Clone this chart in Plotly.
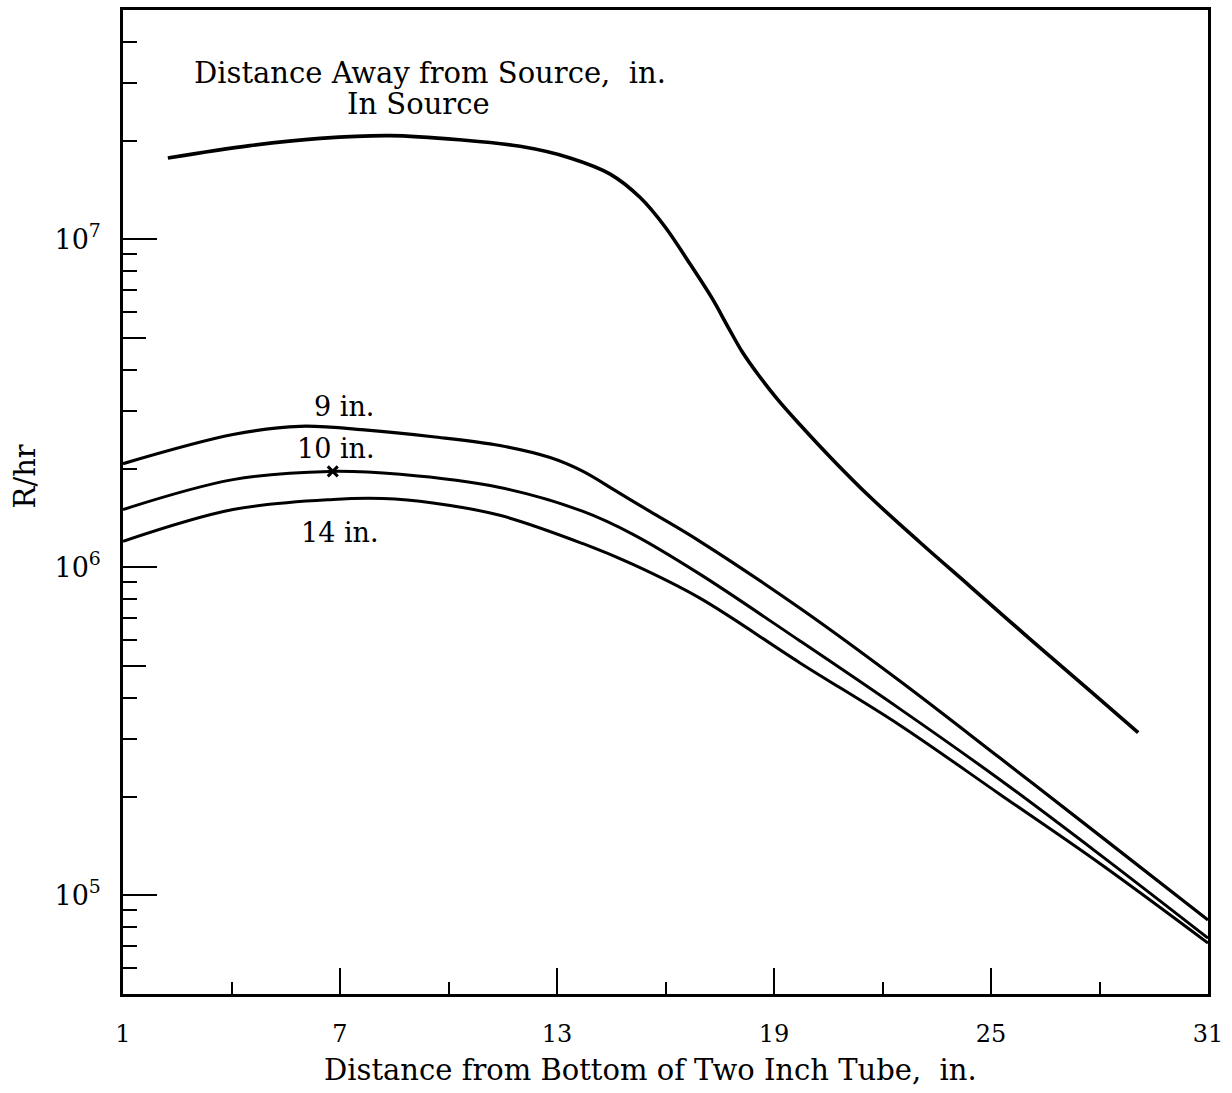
import plotly.graph_objects as go

# ---- data ----
src_x = [2.24, 4.51, 6.45, 8.38, 10.32, 11.98, 13.36, 14.47, 15.30, 15.99, 16.68, 17.29,
         17.73, 18.12, 18.56, 19.11, 19.72, 20.55, 21.65, 23.04, 24.42, 26.08, 27.74, 29.07]
src_y = [1.77e7, 1.93e7, 2.03e7, 2.07e7, 2.01e7, 1.92e7, 1.77e7, 1.58e7, 1.34e7, 1.09e7,
         8.4e6, 6.6e6, 5.4e6, 4.54e6, 3.87e6, 3.24e6, 2.72e6, 2.17e6, 1.64e6, 1.19e6,
         8.75e5, 6.04e5, 4.20e5, 3.13e5]

in9_x = [1.0, 4.04, 5.89, 7.75, 9.57, 11.42, 12.81, 13.72, 14.66, 15.57, 16.95, 19.72,
         22.48, 25.25, 28.01, 31.0]
in9_y = [2.07e6, 2.54e6, 2.69e6, 2.62e6, 2.50e6, 2.35e6, 2.16e6, 1.96e6, 1.70e6, 1.48e6,
         1.20e6, 7.50e5, 4.50e5, 2.62e5, 1.52e5, 8.40e4]

in10_x = [1.0, 4.04, 6.72, 8.66, 11.42, 13.72, 15.10, 16.95, 19.72, 22.48, 25.25, 28.01, 31.0]
in10_y = [1.50e6, 1.85e6, 1.96e6, 1.92e6, 1.75e6, 1.48e6, 1.26e6, 9.53e5, 5.96e5,
          3.70e5, 2.25e5, 1.33e5, 7.40e4]

in14_x = [1.0, 4.04, 6.81, 8.19, 9.57, 11.42, 13.72, 15.10, 16.95, 19.72, 22.48, 25.25,
          28.01, 31.0]
in14_y = [1.20e6, 1.50e6, 1.61e6, 1.62e6, 1.57e6, 1.44e6, 1.18e6, 1.02e6, 8.05e5,
          5.11e5, 3.30e5, 2.03e5, 1.25e5, 7.15e4]

mark_x = [6.8]
mark_y = [1.96e6]

x_ticks = [1, 7, 13, 19, 25, 31]
x_minor = [4, 10, 16, 22, 28]
y_decades = [1e5, 1e6, 1e7]
y_decade_text = ["10<sup>5</sup>", "10<sup>6</sup>", "10<sup>7</sup>"]
y_fives = [5e5, 5e6]
y_minor = [6e4, 7e4, 8e4, 9e4,
           2e5, 3e5, 4e5, 6e5, 7e5, 8e5, 9e5,
           2e6, 3e6, 4e6, 6e6, 7e6, 8e6, 9e6,
           2e7, 3e7, 4e7]

FONT = "DejaVu Serif"
YR = [4.69897, 7.69897]

fig = go.Figure()


def curve(xs, ys, width):
    return go.Scatter(x=xs, y=ys, mode="lines", showlegend=False, hoverinfo="skip",
                      line=dict(color="black", width=width, shape="spline", smoothing=1.0))


fig.add_trace(curve(src_x, src_y, 3.6))
fig.add_trace(curve(in9_x, in9_y, 3.2))
fig.add_trace(curve(in10_x, in10_y, 3.0))
fig.add_trace(curve(in14_x, in14_y, 3.0))
fig.add_trace(go.Scatter(x=mark_x, y=mark_y, mode="markers", showlegend=False,
                         marker=dict(symbol="x-thin", size=10, line=dict(color="black", width=3))))

# overlay axis for the medium (5x) ticks
fig.add_trace(go.Scatter(x=[None], y=[None], yaxis="y2", showlegend=False))

fig.update_layout(
    width=1232, height=1093,
    margin=dict(l=123, r=24, t=7, b=99),
    plot_bgcolor="white", paper_bgcolor="white",
    font=dict(family=FONT, color="black"),
    xaxis=dict(
        range=[1, 31], tickvals=x_ticks, ticktext=[str(v) for v in x_ticks],
        ticks="inside", ticklen=26, tickwidth=2, tickcolor="black",
        minor=dict(tickvals=x_minor, ticks="inside", ticklen=12, tickwidth=2, tickcolor="black"),
        showline=True, mirror=True, linewidth=2.5, linecolor="black",
        showgrid=False, zeroline=False,
        tickfont=dict(family=FONT, size=24), ticklabelstandoff=16,
    ),
    yaxis=dict(
        type="log", range=YR, tickvals=y_decades, ticktext=y_decade_text,
        ticks="inside", ticklen=34, tickwidth=2, tickcolor="black",
        minor=dict(tickvals=y_minor, ticks="inside", ticklen=14, tickwidth=2, tickcolor="black"),
        showline=True, mirror=True, linewidth=2.5, linecolor="black",
        showgrid=False, zeroline=False,
        tickfont=dict(family=FONT, size=27), ticklabelstandoff=14,
    ),
    yaxis2=dict(
        type="log", range=YR, overlaying="y", side="left", anchor="x",
        tickvals=y_fives, ticks="inside", ticklen=23, tickwidth=2, tickcolor="black",
        showticklabels=False, showgrid=False, showline=False, zeroline=False,
    ),
    annotations=[
        dict(x=9.49, y=7.508, xref="x", yref="y", text="Distance Away from Source,  in.",
             showarrow=False, xanchor="center", yanchor="middle", font=dict(size=29)),
        dict(x=9.16, y=7.413, xref="x", yref="y", text="In Source",
             showarrow=False, xanchor="center", yanchor="middle", font=dict(size=29)),
        dict(x=7.1, y=6.489, xref="x", yref="y", text="9 in.",
             showarrow=False, xanchor="center", yanchor="middle", font=dict(size=27)),
        dict(x=6.9, y=6.362, xref="x", yref="y", text="10 in.",
             showarrow=False, xanchor="center", yanchor="middle", font=dict(size=27)),
        dict(x=7.0, y=6.105, xref="x", yref="y", text="14 in.",
             showarrow=False, xanchor="center", yanchor="middle", font=dict(size=27)),
        dict(x=0.486, y=-0.077, xref="paper", yref="paper",
             text="Distance from Bottom of Two Inch Tube,  in.",
             showarrow=False, xanchor="center", yanchor="middle", font=dict(size=29)),
        dict(x=-0.0903, y=0.526, xref="paper", yref="paper", text="R/hr",
             textangle=-90, showarrow=False, xanchor="center", yanchor="middle",
             font=dict(size=29)),
    ],
)

fig.write_html("out.html")
